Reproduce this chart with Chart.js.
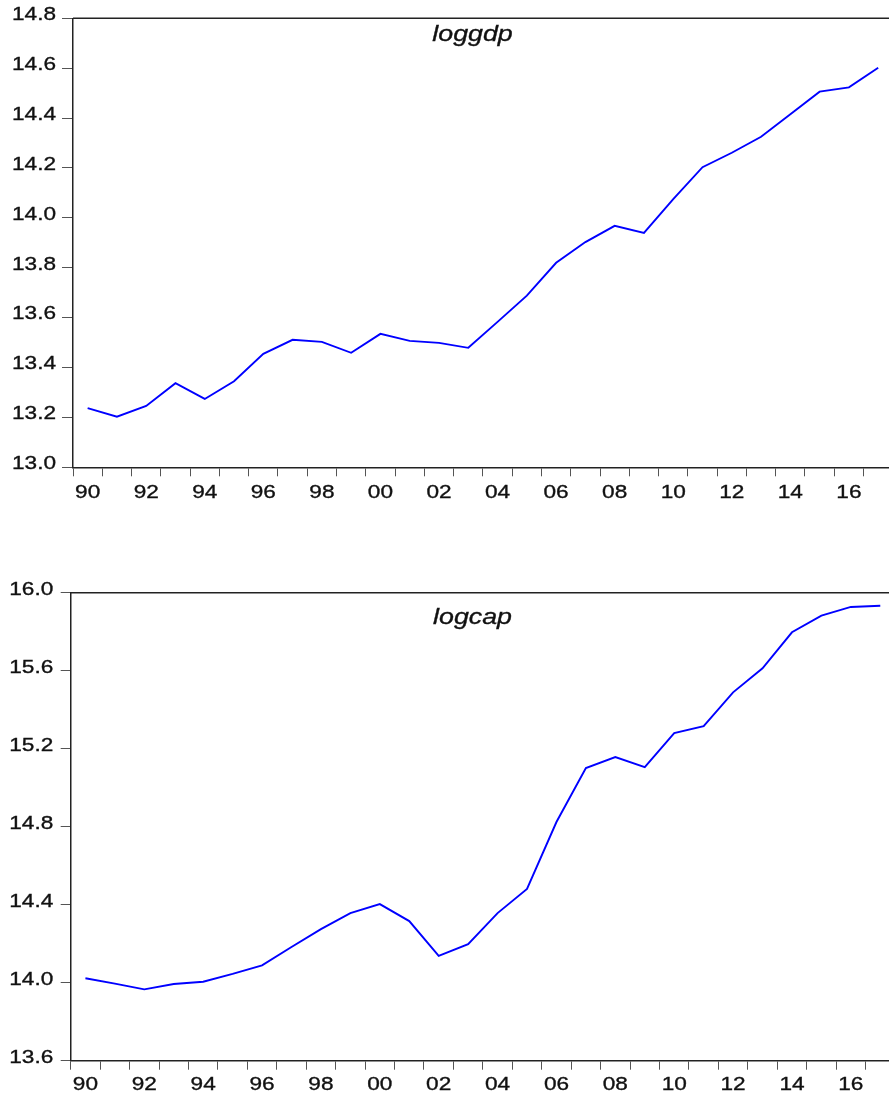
<!DOCTYPE html>
<html>
<head>
<meta charset="utf-8">
<title>loggdp / logcap</title>
<script src="https://cdn.jsdelivr.net/npm/chart.js@4.4.1/dist/chart.umd.min.js"></script>
<style>
  html, body { margin: 0; padding: 0; background: #fff; overflow: hidden; }
  #wrap { position: relative; width: 889px; height: 1099px; }
  canvas { position: absolute; left: 0; }
  #c1 { top: 0; }
  #c2 { top: 560px; }
</style>
</head>
<body>
<div id="wrap">
  <canvas id="c1" width="889" height="520"></canvas>
  <canvas id="c2" width="889" height="539"></canvas>
</div>
<script>
// Annual observations, 1990-2017
const years = [1990, 1991, 1992, 1993, 1994, 1995, 1996, 1997, 1998, 1999,
               2000, 2001, 2002, 2003, 2004, 2005, 2006, 2007, 2008, 2009,
               2010, 2011, 2012, 2013, 2014, 2015, 2016, 2017];

const loggdp = [13.237, 13.203, 13.246, 13.337, 13.274, 13.345, 13.455, 13.511, 13.503, 13.459,
                13.535, 13.507, 13.499, 13.479, 13.583, 13.688, 13.820, 13.903, 13.968, 13.940,
                14.075, 14.203, 14.261, 14.325, 14.415, 14.506, 14.523, 14.602];

const logcap = [14.023, 13.995, 13.966, 13.993, 14.005, 14.045, 14.089, 14.183, 14.275, 14.357,
                14.403, 14.316, 14.137, 14.198, 14.357, 14.481, 14.824, 15.101, 15.157, 15.106,
                15.280, 15.316, 15.489, 15.612, 15.797, 15.882, 15.927, 15.933];

// Axis tick labels
const gdpTicks = [13.0, 13.2, 13.4, 13.6, 13.8, 14.0, 14.2, 14.4, 14.6, 14.8];
const capTicks = [13.6, 14.0, 14.4, 14.8, 15.2, 15.6, 16.0];
const yearLabels = [1990, 1992, 1994, 1996, 1998, 2000, 2002, 2004, 2006, 2008,
                    2010, 2012, 2014, 2016];

// Text is drawn slightly widened horizontally
const STRETCH = 1.19;
const FONT = '"Liberation Sans", Arial, Helvetica, sans-serif';

function drawStretched(ctx, text, x, y, align) {
  ctx.save();
  ctx.translate(x, y);
  ctx.scale(STRETCH, 1);
  ctx.textAlign = align;
  ctx.fillText(text, 0, 0);
  ctx.strokeText(text, 0, 0);
  ctx.restore();
}

// Frame top edge, axis labels and the series name
const framePlugin = {
  id: 'frame',
  afterDraw(chart, args, opts) {
    const { ctx, chartArea: a } = chart;
    const xs = chart.scales.x, ys = chart.scales.y;
    ctx.save();
    ctx.strokeStyle = '#222';
    ctx.lineWidth = 1.5;
    ctx.beginPath();
    ctx.moveTo(a.left, a.top);
    ctx.lineTo(a.right, a.top);
    ctx.stroke();

    ctx.fillStyle = '#111';
    ctx.strokeStyle = '#111';
    ctx.lineWidth = 0.35;
    ctx.textBaseline = 'alphabetic';
    ctx.font = '19px ' + FONT;
    ys.ticks.forEach(t => {
      drawStretched(ctx, t.value.toFixed(1), opts.yLabelRight,
                    ys.getPixelForValue(t.value) + 1.8, 'right');
    });
    opts.xLabels.forEach(yr => {
      drawStretched(ctx, String(yr % 100).padStart(2, '0'),
                    xs.getPixelForValue(yr), opts.xBaseline, 'center');
    });

    ctx.font = 'italic 22.5px ' + FONT;
    drawStretched(ctx, opts.title, opts.titleX, opts.titleY, 'center');
    ctx.restore();
  }
};

function makeChart(id, values, ticks, cfg) {
  const boundaries = years.map(y => y - 0.5);
  return new Chart(document.getElementById(id), {
    type: 'line',
    data: {
      datasets: [{
        data: years.map((y, i) => ({ x: y, y: values[i] })),
        borderColor: '#0000ff',
        borderWidth: 1.9,
        pointRadius: 0,
        tension: 0,
        fill: false
      }]
    },
    options: {
      responsive: false,
      animation: false,
      devicePixelRatio: 1,
      layout: { padding: { top: cfg.padTop, right: 0, bottom: 0, left: 0 } },
      plugins: {
        legend: { display: false },
        tooltip: { enabled: false },
        frame: {
          title: cfg.title,
          titleX: 472.5,
          titleY: cfg.titleY,
          yLabelRight: cfg.yLabelRight,
          xBaseline: cfg.xBaseline,
          xLabels: yearLabels
        }
      },
      scales: {
        x: {
          type: 'linear',
          min: 1989.5,
          max: cfg.xMax,
          afterBuildTicks: s => {
            s.ticks = boundaries.filter(v => v <= cfg.xMax).map(v => ({ value: v }));
          },
          afterFit: s => { s.height = cfg.xAxisH; },
          ticks: { display: false },
          grid: { drawOnChartArea: false, drawTicks: true, tickLength: 9, color: '#555', lineWidth: 1 },
          border: { display: true, color: '#222', width: 1.5 }
        },
        y: {
          type: 'linear',
          min: ticks[0],
          max: ticks[ticks.length - 1],
          afterBuildTicks: s => { s.ticks = ticks.map(v => ({ value: v })); },
          afterFit: s => { s.width = cfg.yAxisW; },
          ticks: { display: false },
          grid: { drawOnChartArea: false, drawTicks: true, tickLength: cfg.yTickLen, color: '#555', lineWidth: 1 },
          border: { display: true, color: '#222', width: 1.5 }
        }
      }
    },
    plugins: [framePlugin]
  });
}

makeChart('c1', loggdp, gdpTicks, {
  title: 'loggdp', padTop: 18.3, xAxisH: 52.7, yAxisW: 73, yTickLen: 11,
  xMax: 2017.369, titleY: 41, yLabelRight: 56, xBaseline: 498.3
});

makeChart('c2', logcap, capTicks, {
  title: 'logcap', padTop: 32.7, xAxisH: 38.3, yAxisW: 70.7, yTickLen: 10,
  xMax: 2017.296, titleY: 63.5, yLabelRight: 53.3, xBaseline: 530
});
</script>
</body>
</html>
